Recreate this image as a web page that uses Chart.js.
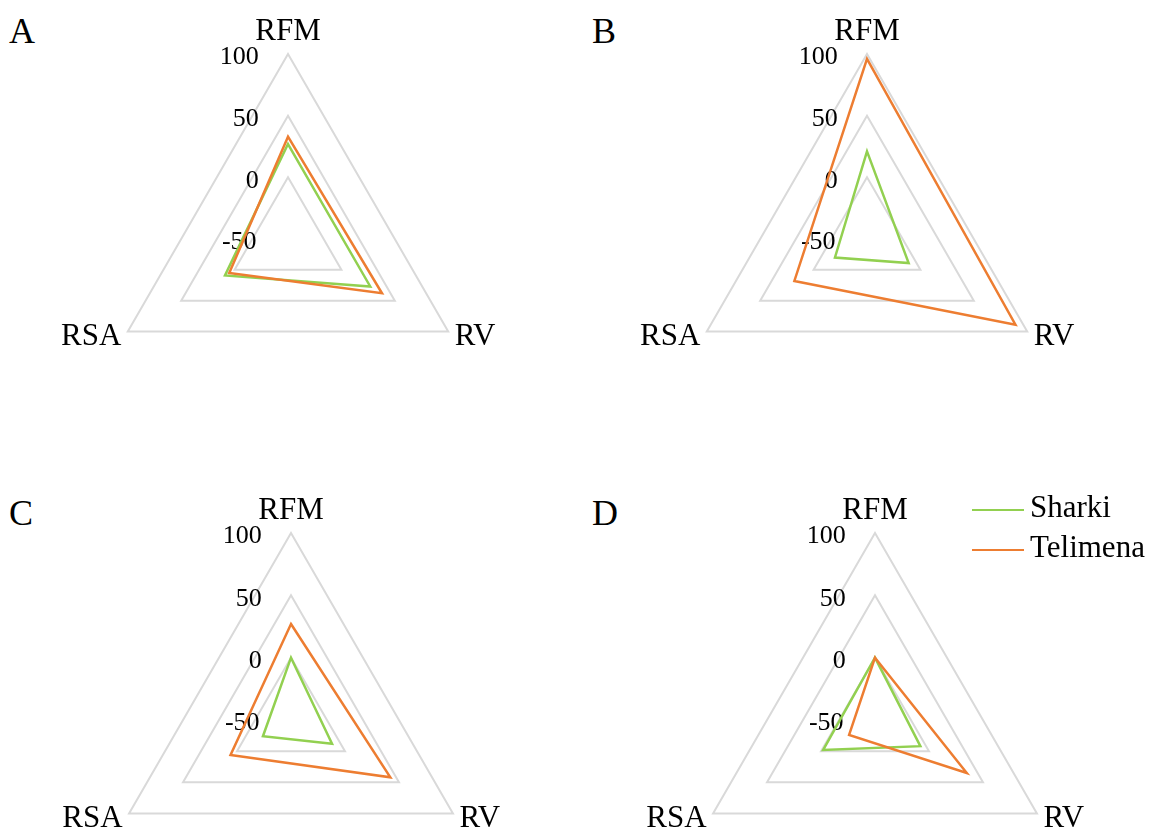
<!DOCTYPE html>
<html>
<head>
<meta charset="utf-8">
<script src="https://cdn.jsdelivr.net/npm/chart.js@4.4.1/dist/chart.umd.min.js"></script>
<style>
html,body{margin:0;padding:0;background:#fff;}
body{width:1151px;height:830px;position:relative;overflow:hidden;font-family:"Liberation Serif","Times New Roman",serif;color:#000;}
canvas{position:absolute;}
.letter{position:absolute;font-size:36px;line-height:36px;}
.legend{position:absolute;left:972px;top:487px;font-size:31px;}
.legend div{height:40px;line-height:40px;white-space:nowrap;}
.legend span.ln{display:inline-block;width:52px;height:0;border-top:2.5px solid;vertical-align:middle;margin-right:6px;}
</style>
</head>
<body>
<div class="letter" style="left:9px;top:13px">A</div>
<div class="letter" style="left:592px;top:13px">B</div>
<div class="letter" style="left:9px;top:495px">C</div>
<div class="letter" style="left:592px;top:495px">D</div>

<canvas id="chartA" width="480" height="480" style="left:48px;top:-1px"></canvas>
<canvas id="chartB" width="480" height="480" style="left:627px;top:-1px"></canvas>
<canvas id="chartC" width="484" height="484" style="left:49px;top:478px"></canvas>
<canvas id="chartD" width="484" height="484" style="left:633px;top:478px"></canvas>

<div class="legend">
  <div><span class="ln" style="border-color:#92D050"></span>Sharki</div>
  <div><span class="ln" style="border-color:#ED7D31"></span>Telimena</div>
</div>

<script>
// axes
const categories = ["RFM", "RV", "RSA"];
const seriesNames = ["Sharki", "Telimena"];
const tickValues = [-50, 0, 50, 100];

// panel values, order RFM, RV, RSA
const sharkiA = [27, 27, 9];
const telimenaA = [33, 38, 5];
const sharkiB = [21, -11, -20];
const telimenaB = [96, 89, 18];
const sharkiC = [0, -12, -24];
const telimenaC = [27, 42, 6];
const sharkiD = [0, -8, -2];
const telimenaD = [0, 35, -26];

const serif = '"Liberation Serif", "Times New Roman", serif';
const green = "#92D050";
const orange = "#ED7D31";

// tick labels sit left of the vertical axis, right aligned, a bit below the grid
const mctx = document.createElement("canvas").getContext("2d");
mctx.font = "26px " + serif;
const GAP = 30;
function padTick(v){
  const s = String(v);
  const w = mctx.measureText(s).width;
  const sp = mctx.measureText(" ").width;
  const n = Math.round((2*GAP + w)/sp);
  return ["", s + " ".repeat(n)];
}

function makeRadar(id, sharki, telimena){
  const ctx = document.getElementById(id).getContext("2d");
  return new Chart(ctx, {
    type: "radar",
    data: {
      labels: categories,
      datasets: [
        {label: seriesNames[0], data: sharki, borderColor: green, order: 2},
        {label: seriesNames[1], data: telimena, borderColor: orange, order: 1}
      ]
    },
    options: {
      responsive: false,
      animation: false,
      layout: {padding: 0},
      elements: {
        line: {borderWidth: 2.5, tension: 0, fill: false},
        point: {radius: 0, hoverRadius: 0}
      },
      plugins: {legend: {display: false}, tooltip: {enabled: false}},
      scales: {
        r: {
          min: tickValues[0],
          max: tickValues[tickValues.length-1],
          angleLines: {display: false},
          grid: {color: "#D9D9D9", lineWidth: 2},
          ticks: {
            stepSize: 50,
            color: "#000",
            font: {family: serif, size: 26, lineHeight: "3.5px"},
            showLabelBackdrop: false,
            backdropPadding: 42,
            callback: v => padTick(v)
          },
          pointLabels: {
            color: "#000",
            font: {family: serif, size: 31, lineHeight: 0.1},
            padding: c => c.index === 0 ? -34 : -47.5
          }
        }
      }
    }
  });
}

makeRadar("chartA", sharkiA, telimenaA);
makeRadar("chartB", sharkiB, telimenaB);
makeRadar("chartC", sharkiC, telimenaC);
makeRadar("chartD", sharkiD, telimenaD);
</script>
</body>
</html>
